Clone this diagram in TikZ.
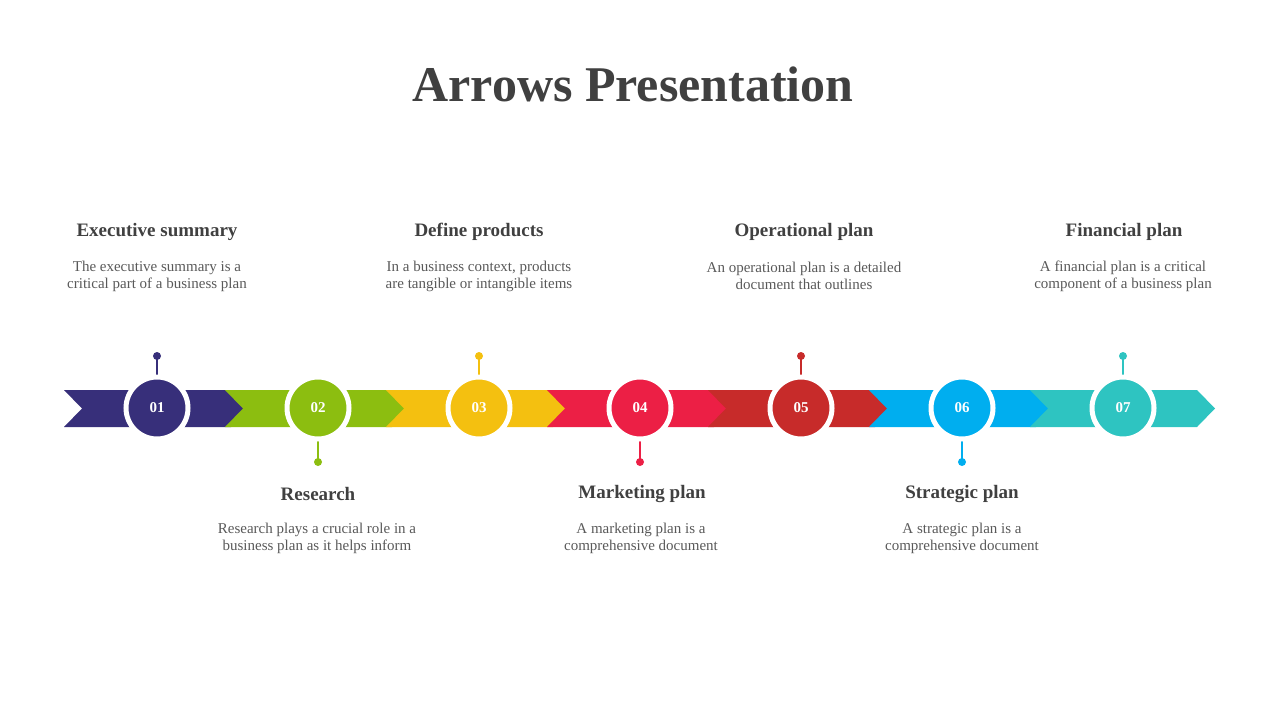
\documentclass[tikz,border=0pt]{standalone}
\usepackage{fontspec}
\setmainfont{Liberation Serif}
\definecolor{txt}{HTML}{404040}
\definecolor{desc}{HTML}{595959}
\definecolor{c1}{HTML}{372F7A}
\definecolor{c2}{HTML}{8CBE10}
\definecolor{c3}{HTML}{F4C010}
\definecolor{c4}{HTML}{EC1F45}
\definecolor{c5}{HTML}{C72B2A}
\definecolor{c6}{HTML}{00AEEF}
\definecolor{c7}{HTML}{2EC4C1}
\begin{document}
\begin{tikzpicture}[x=1pt,y=-1pt,
  head/.style={font=\bfseries\fontsize{19}{22}\selectfont,text=txt},
  desc/.style={font=\fontsize{15}{17}\selectfont,text=desc,align=center},
  num/.style={circle,minimum size=62pt,inner sep=0pt,draw=white,line width=5pt,text=white,font=\bfseries\fontsize{15}{17}\selectfont}]
\useasboundingbox (0,0) rectangle (1280,720);
\node[font=\bfseries\fontsize{50}{56}\selectfont,text=txt] (title) at (633,84) {Arrows Presentation};
\foreach \i/\c in {1/c1,2/c2,3/c3,4/c4,5/c5,6/c6,7/c7}{
  \pgfmathsetmacro{\L}{64+161*(\i-1)}
  \fill[\c] (\L,390) -- (\L+167,390) -- (\L+185,408.5) -- (\L+167,427) -- (\L,427) -- (\L+18,408.5) -- cycle;
}
\foreach \i/\c in {1/c1,2/c2,3/c3,4/c4,5/c5,6/c6,7/c7}{
  \pgfmathsetmacro{\X}{157+161*(\i-1)}
  \pgfmathsetmacro{\D}{isodd(\i) ? 356 : 462}
  \coordinate (p\i) at (\X,\D);
  \draw[\c,line width=1.8pt] (p\i) -- (\X,408);
  \fill[\c] (p\i) circle (4);
  \node[num,fill=\c] (n\i) at (\X,408) {0\i};
}
\node[head] (h1) at (157,232) {Executive summary};
\node[desc] (d1) at (157,276) {The executive summary is a\\critical part of a business plan};
\node[head] (h3) at (479,232) {Define products};
\node[desc] (d3) at (479,276) {In a business context, products\\are tangible or intangible items};
\node[head] (h5) at (804,232) {Operational plan};
\node[desc] (d5) at (804,276) {An operational plan is a detailed\\document that outlines};
\node[head] (h7) at (1124,232) {Financial plan};
\node[desc] (d7) at (1123,276) {A financial plan is a critical\\component of a business plan};
\node[head] (h2) at (318,494) {Research};
\node[desc] (d2) at (317,538) {Research plays a crucial role in a\\business plan as it helps inform};
\node[head] (h4) at (642,494) {Marketing plan};
\node[desc] (d4) at (641,538) {A marketing plan is a\\comprehensive document};
\node[head] (h6) at (962,494) {Strategic plan};
\node[desc] (d6) at (962,538) {A strategic plan is a\\comprehensive document};
\end{tikzpicture}
\end{document}
